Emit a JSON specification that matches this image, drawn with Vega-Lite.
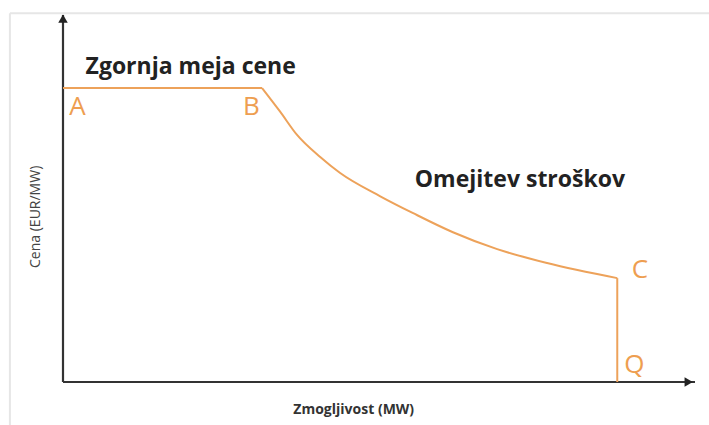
{
  "$schema": "https://vega.github.io/schema/vega-lite/v6.json",
  "width": 632,
  "height": 367,
  "autosize": {"type": "none"},
  "padding": {"left": 63, "right": 14, "top": 15, "bottom": 43},
  "background": "white",
  "config": {"view": {"stroke": null}},
  "datasets": {
    "straight": [
      {"seg": "cap", "cap": 0, "price": 80.1},
      {"seg": "cap", "cap": 31.5, "price": 80.1},
      {"seg": "drop", "cap": 87.7, "price": 28.3},
      {"seg": "drop", "cap": 87.7, "price": 0}
    ],
    "curve": [
      {"cap": 31.5, "price": 80.1},
      {"cap": 34.3, "price": 73.8},
      {"cap": 37.0, "price": 67.4},
      {"cap": 40.7, "price": 61.3},
      {"cap": 43.8, "price": 57.0},
      {"cap": 50.2, "price": 50.6},
      {"cap": 55.4, "price": 46.0},
      {"cap": 61.7, "price": 40.8},
      {"cap": 68.7, "price": 36.2},
      {"cap": 76.6, "price": 32.4},
      {"cap": 87.7, "price": 28.3}
    ],
    "axes": [
      {"axis": "x", "x1": 0, "y1": 0, "x2": 100, "y2": 0},
      {"axis": "y", "x1": 0, "y1": 0, "x2": 0, "y2": 100}
    ],
    "frame": [
      {"side": "top", "x1": -8.4, "y1": 100.5, "x2": 102.5, "y2": 100.5},
      {"side": "left", "x1": -8.4, "y1": -12, "x2": -8.4, "y2": 100.5}
    ],
    "arrows": [
      {"dir": "x", "cap": 99.0, "price": 0, "shape": "triangle-right"},
      {"dir": "y", "cap": 0, "price": 99.0, "shape": "triangle-up"}
    ],
    "pointLabels": [
      {"label": "A", "cap": 2.3, "price": 75.0},
      {"label": "B", "cap": 29.8, "price": 75.0},
      {"label": "C", "cap": 91.3, "price": 30.5},
      {"label": "Q", "cap": 90.4, "price": 4.6}
    ],
    "regionLabels": [
      {"label": "Zgornja meja cene", "cap": 20.2, "price": 85.8},
      {"label": "Omejitev stroškov", "cap": 72.3, "price": 55.0}
    ],
    "xTitle": [
      {"label": "Zmogljivost (MW)", "cap": 46.0, "price": -7.6}
    ],
    "yTitle": [
      {"label": "Cena (EUR/MW)", "cap": -4.3, "price": 45.0}
    ]
  },
  "layer": [
    {
      "data": {"name": "frame"},
      "mark": {"type": "rule", "color": "#e6e6e6", "strokeWidth": 2},
      "encoding": {
        "x": {"field": "x1", "type": "quantitative", "scale": {"domain": [0, 100]}, "axis": null},
        "y": {"field": "y1", "type": "quantitative", "scale": {"domain": [0, 100]}, "axis": null},
        "x2": {"field": "x2"},
        "y2": {"field": "y2"}
      }
    },
    {
      "data": {"name": "axes"},
      "mark": {"type": "rule", "color": "#333333", "strokeWidth": 2.2},
      "encoding": {
        "x": {"field": "x1", "type": "quantitative"},
        "y": {"field": "y1", "type": "quantitative"},
        "x2": {"field": "x2"},
        "y2": {"field": "y2"}
      }
    },
    {
      "data": {"name": "arrows"},
      "mark": {"type": "point", "filled": true, "color": "#222222", "size": 90, "opacity": 1},
      "encoding": {
        "x": {"field": "cap", "type": "quantitative"},
        "y": {"field": "price", "type": "quantitative"},
        "shape": {"field": "shape", "type": "nominal", "scale": null, "legend": null}
      }
    },
    {
      "data": {"name": "straight"},
      "mark": {"type": "line", "color": "#EDA25A", "strokeWidth": 2, "interpolate": "linear"},
      "encoding": {
        "x": {"field": "cap", "type": "quantitative"},
        "y": {"field": "price", "type": "quantitative"},
        "detail": {"field": "seg", "type": "nominal"}
      }
    },
    {
      "data": {"name": "curve"},
      "mark": {"type": "line", "color": "#EDA25A", "strokeWidth": 2, "interpolate": "monotone"},
      "encoding": {
        "x": {"field": "cap", "type": "quantitative"},
        "y": {"field": "price", "type": "quantitative"}
      }
    },
    {
      "data": {"name": "pointLabels"},
      "mark": {"type": "text", "color": "#EE9E50", "fontSize": 26, "font": "Open Sans", "align": "center", "baseline": "middle"},
      "encoding": {
        "x": {"field": "cap", "type": "quantitative"},
        "y": {"field": "price", "type": "quantitative"},
        "text": {"field": "label"}
      }
    },
    {
      "data": {"name": "regionLabels"},
      "mark": {"type": "text", "color": "#222222", "fontSize": 23, "fontWeight": "bold", "font": "Open Sans", "align": "center", "baseline": "middle"},
      "encoding": {
        "x": {"field": "cap", "type": "quantitative"},
        "y": {"field": "price", "type": "quantitative"},
        "text": {"field": "label"}
      }
    },
    {
      "data": {"name": "xTitle"},
      "mark": {"type": "text", "color": "#333333", "fontSize": 14, "fontWeight": "bold", "font": "Open Sans", "align": "center", "baseline": "middle"},
      "encoding": {
        "x": {"field": "cap", "type": "quantitative"},
        "y": {"field": "price", "type": "quantitative"},
        "text": {"field": "label"}
      }
    },
    {
      "data": {"name": "yTitle"},
      "mark": {"type": "text", "color": "#444444", "fontSize": 14, "font": "Open Sans", "align": "center", "baseline": "middle", "angle": 270},
      "encoding": {
        "x": {"field": "cap", "type": "quantitative"},
        "y": {"field": "price", "type": "quantitative"},
        "text": {"field": "label"}
      }
    }
  ]
}
